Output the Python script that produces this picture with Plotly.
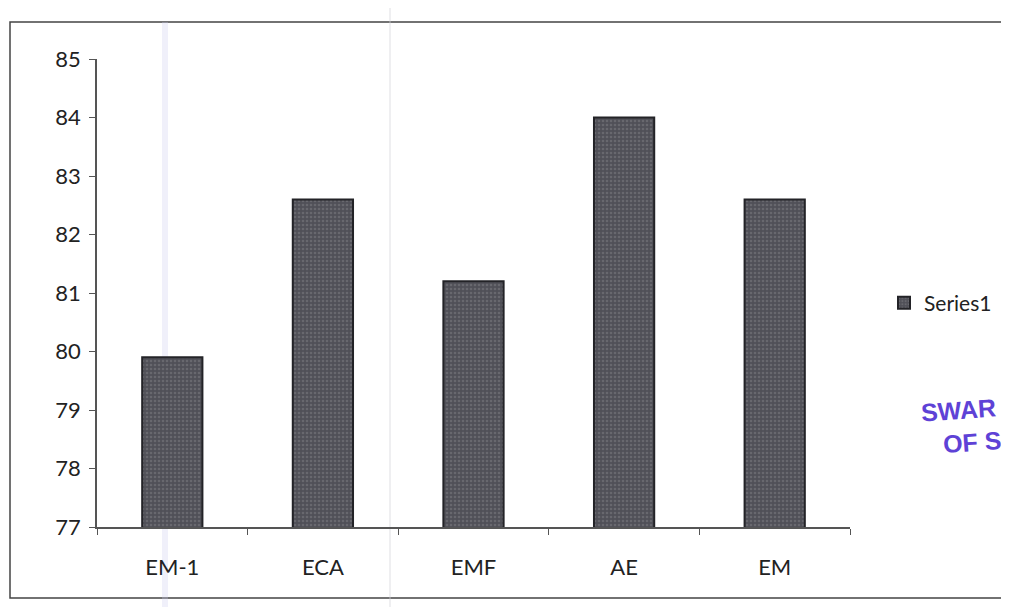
import plotly.graph_objects as go

categories = ["EM-1", "ECA", "EMF", "AE", "EM"]
values = [79.9, 82.6, 81.2, 84.0, 82.6]
y_ticks = [77, 78, 79, 80, 81, 82, 83, 84, 85]
series_name = "Series1"

# page has an 8px body margin, so figure coords = screen coords - 8
OFF = 8
W, H = 1009, 607
L, R, T, B = 97 - OFF, 850 - OFF, 59 - OFF, 527 - OFF


def px(x):
    return (x - OFF - L) / (R - L)


def py(y):
    return (B - (y - OFF)) / (B - T)


fig = go.Figure()
fig.add_trace(go.Bar(
    x=categories, y=values, name=series_name,
    marker=dict(
        color="#56565d",
        line=dict(color="#232327", width=2),
        pattern=dict(shape=".", fgcolor="#7f7f86", bgcolor="#505057", size=4, solidity=0.35),
    ),
    showlegend=True,
))

font = "Lato, 'Open Sans', sans-serif"

fig.update_layout(
    width=W, height=H,
    margin=dict(l=L, r=W - R, t=T, b=H - B),
    paper_bgcolor="white", plot_bgcolor="white",
    bargap=0.6,
    font=dict(family=font, size=22, color="#222222"),
    showlegend=True,
    legend=dict(x=px(884), y=py(303), xanchor="left", yanchor="middle",
                font=dict(size=21, color="#222222"), itemwidth=30,
                bgcolor="rgba(0,0,0,0)"),
    xaxis=dict(showline=True, linecolor="#555555", linewidth=1.5,
               ticks="outside", ticklen=6, tickcolor="#555555", tickson="boundaries",
               showgrid=False, ticklabelstandoff=20, tickfont=dict(size=22)),
    yaxis=dict(range=[77, 85], tickvals=y_ticks, showline=True, linecolor="#555555",
               linewidth=1.5, ticks="outside", ticklen=6, tickcolor="#555555",
               showgrid=False, zeroline=False, ticklabelstandoff=4, tickfont=dict(size=22)),
)

# outer chart border and faint scan streaks
fig.add_shape(type="rect", xref="paper", yref="paper",
              x0=px(10), x1=px(1012), y0=py(598), y1=py(22),
              line=dict(color="#444444", width=1.5), layer="below")
fig.add_shape(type="line", xref="paper", yref="paper",
              x0=px(165), x1=px(165), y0=py(615), y1=py(22),
              line=dict(color="rgba(205,205,240,0.3)", width=6), layer="below")
fig.add_shape(type="line", xref="paper", yref="paper",
              x0=px(390), x1=px(390), y0=py(615), y1=py(0),
              line=dict(color="rgba(210,210,215,0.35)", width=2), layer="below")

# stamp fragment on the right
for txt, xx, yy in [("SWAR", 918, 410), ("OF S", 940, 442)]:
    fig.add_annotation(text=txt, xref="paper", yref="paper", x=px(xx), y=py(yy),
                       xanchor="left", yanchor="middle", showarrow=False, textangle=-4,
                       font=dict(family="'Liberation Sans', Arial, sans-serif", size=25,
                                 color="#5e42d6", weight="bold"))

fig.write_html("out.html")
